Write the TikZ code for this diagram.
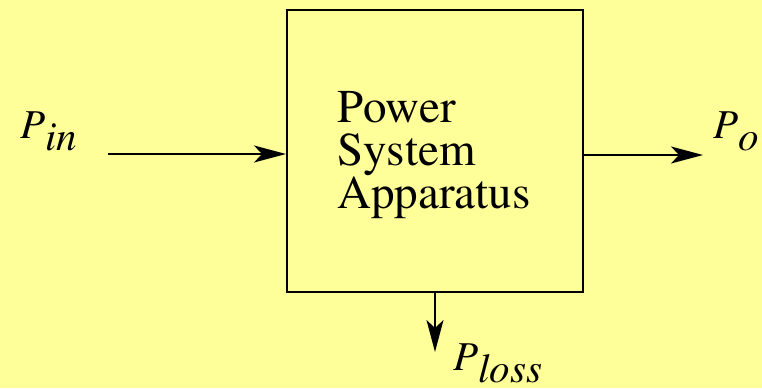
\documentclass[tikz,border=0pt]{standalone}
\usepackage[T1]{fontenc}
\usepackage{times}
\usetikzlibrary{arrows.meta}
\definecolor{bgyellow}{HTML}{FFFF99}
\begin{document}
\begin{tikzpicture}[x=1pt,y=-1pt,
  flow/.style={line width=1.8pt,-{Stealth[length=32pt,width=17pt,inset=8pt]}},
  label/.style={inner sep=0pt,anchor=base west,font=\fontsize{41}{41}\selectfont\itshape},
  body/.style={inner sep=0pt,anchor=base west,font=\fontsize{47}{47}\selectfont}]
  \fill[bgyellow] (0,0) rectangle (762,388);
  \useasboundingbox (0,0) rectangle (762,388);
  \node[draw,line width=2pt,minimum width=296pt,minimum height=282pt,inner sep=0pt] (box) at (435,151) {};
  \node[body] (t1) at (337,122) {Power};
  \node[body] (t2) at (337,165) {System};
  \node[body] (t3) at (337,208) {Apparatus};
  \coordinate (inS) at (108,154);
  \coordinate (inE) at (box.west |- inS);
  \coordinate (outS) at (box.east |- 0,155);
  \coordinate (outE) at (703,155);
  \coordinate (lossE) at (435,352);
  \draw[flow] (inS) -- (inE);
  \draw[flow] (outS) -- (outE);
  \draw[flow] (box.south) -- (lossE);
  \node[label] (pin) at (20,138) {P\raisebox{-12pt}{in}};
  \node[label] (po) at (713,138) {P\raisebox{-12pt}{o}};
  \node[label] (ploss) at (453,370) {P\raisebox{-12pt}{loss}};
\end{tikzpicture}
\end{document}
